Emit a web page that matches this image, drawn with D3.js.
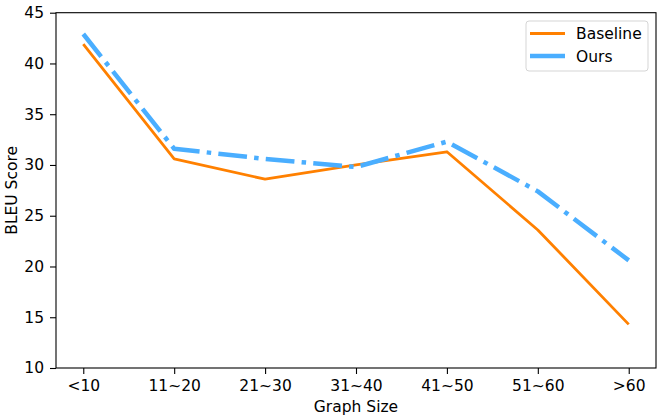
<!DOCTYPE html>
<html>
<head>
<meta charset="utf-8">
<script src="https://cdn.jsdelivr.net/npm/d3@7"></script>
<style>
  body { margin: 0; background: #fff; }
  text { font-family: "DejaVu Sans", sans-serif; fill: #000; }
</style>
</head>
<body>
<div id="chart"></div>
<script>
// Data
var categories = ['<10', '11~20', '21~30', '31~40', '41~50', '51~60', '>60']
var baseline = [41.9, 30.6, 28.6, 30.0, 31.3, 23.6, 14.3]
var ours = [42.9, 31.6, 30.6, 29.8, 32.3, 27.4, 20.6]
var yTicks = [10, 15, 20, 25, 30, 35, 40, 45]

// Dimensions
var width = 664
var height = 419
var margin = { top: 12.7, right: 8, bottom: 51, left: 56 }
var chartWidth = width - margin.left - margin.right
var chartHeight = height - margin.top - margin.bottom
var fontSize = '15.5px'

var svg = d3.select('#chart').append('svg')
  .attr('width', width)
  .attr('height', height)

var g = svg.append('g')
  .attr('transform', 'translate(' + margin.left + ',' + margin.top + ')')

// Scales
var xScale = d3.scaleLinear()
  .domain([-0.3, categories.length - 1 + 0.3])
  .range([0, chartWidth])
var yScale = d3.scaleLinear()
  .domain([10, 45])
  .range([chartHeight, 0])

// Lines
var line = d3.line()
  .x(function (d, i) { return xScale(i) })
  .y(function (d) { return yScale(d) })

g.append('path')
  .datum(baseline)
  .attr('d', line)
  .attr('fill', 'none')
  .attr('stroke', '#ff8000')
  .attr('stroke-width', 2.8)
  .attr('stroke-linejoin', 'round')
  .attr('stroke-linecap', 'butt')

g.append('path')
  .datum(ours)
  .attr('d', line)
  .attr('fill', 'none')
  .attr('stroke', '#4aaeff')
  .attr('stroke-width', 4.5)
  .attr('stroke-dasharray', '28.8,7.2,4.5,7.2')
  .attr('stroke-linejoin', 'round')
  .attr('stroke-linecap', 'butt')

// Axes
var xAxis = d3.axisBottom(xScale)
  .tickValues(d3.range(categories.length))
  .tickFormat(function (d) { return categories[d] })
  .tickSizeOuter(0)
  .tickSize(6)
  .tickPadding(6)
var yAxis = d3.axisLeft(yScale)
  .tickValues(yTicks)
  .tickSizeOuter(0)
  .tickSize(6)
  .tickPadding(6)

var gx = g.append('g')
  .attr('transform', 'translate(0,' + chartHeight + ')')
  .call(xAxis)
var gy = g.append('g').call(yAxis)

;[gx, gy].forEach(function (a) {
  a.select('.domain').remove()
  a.selectAll('line').attr('stroke', '#000').attr('stroke-width', 1.1)
  a.selectAll('text').style('font-size', fontSize).style('font-family', '"DejaVu Sans", sans-serif')
})

// Frame
g.append('rect')
  .attr('width', chartWidth)
  .attr('height', chartHeight)
  .attr('fill', 'none')
  .attr('stroke', '#000')
  .attr('stroke-width', 1.1)

// Axis labels
svg.append('text')
  .attr('x', margin.left + chartWidth / 2)
  .attr('y', 412)
  .attr('text-anchor', 'middle')
  .style('font-size', fontSize)
  .text('Graph Size')

svg.append('text')
  .attr('transform', 'translate(17,' + (margin.top + chartHeight / 2) + ') rotate(-90)')
  .attr('text-anchor', 'middle')
  .style('font-size', fontSize)
  .text('BLEU Score')

// Legend
var legend = svg.append('g')
  .attr('transform', 'translate(526,21)')
legend.append('rect')
  .attr('width', 122)
  .attr('height', 50)
  .attr('rx', 3)
  .attr('fill', '#fff')
  .attr('fill-opacity', 0.8)
  .attr('stroke', '#d5d5d5')
  .attr('stroke-width', 1)

var items = [
  { name: 'Baseline', color: '#ff8000', w: 2.8 },
  { name: 'Ours', color: '#4aaeff', w: 4.5 }
]
items.forEach(function (d, i) {
  var y = 12.5 + i * 22.5
  legend.append('line')
    .attr('x1', 4).attr('x2', 39)
    .attr('y1', y).attr('y2', y)
    .attr('stroke', d.color)
    .attr('stroke-width', d.w)
  legend.append('text')
    .attr('x', 50)
    .attr('y', y + 5.5)
    .style('font-size', fontSize)
    .text(d.name)
})
</script>
</body>
</html>
